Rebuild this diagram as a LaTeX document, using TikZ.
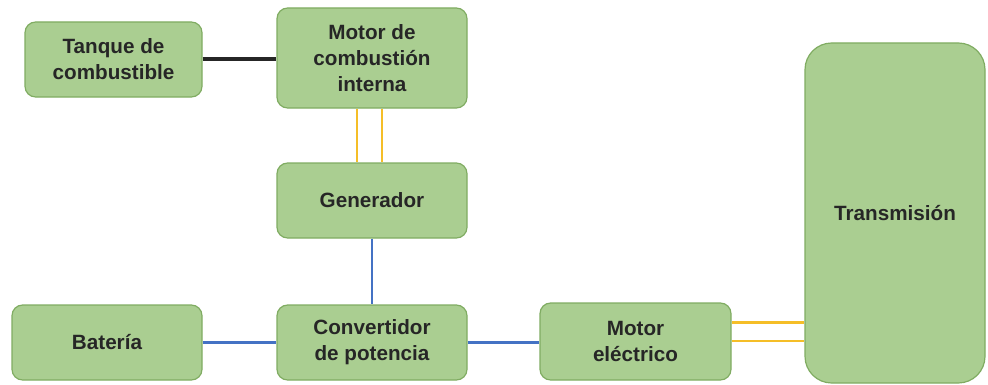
\documentclass[tikz,border=0pt]{standalone}
\usepackage{fontspec}
\setmainfont{Liberation Sans}
\usepackage{xcolor}
\usetikzlibrary{arrows,positioning}

\definecolor{cajaverde}{RGB}{170,206,145}
\definecolor{bordeverde}{RGB}{128,172,98}
\definecolor{amarillo}{RGB}{245,190,40}
\definecolor{azul}{RGB}{68,114,196}

\tikzset{
  caja/.style={rectangle,rounded corners=8pt,draw=bordeverde,line width=0.9pt,fill=cajaverde,
    align=center,inner sep=0pt,text=black!85,
    font=\fontsize{15.5}{19.5}\selectfont\bfseries},
  mecanica/.style={draw=amarillo,line width=2.2pt},
  electrica/.style={draw=azul,line width=2.2pt},
  combustible/.style={draw=black!85,line width=3pt}
}

\begin{document}
\begin{tikzpicture}[x=0.75pt,y=-0.75pt]
  \useasboundingbox (0,0) rectangle (988,385);
  \node[caja,minimum width=177*0.75pt,minimum height=75*0.75pt] (tanque) at (113.5,59.5){Tanque de\\combustible};
  \node[caja,minimum width=190*0.75pt,minimum height=100*0.75pt] (mci) at (372,58){Motor de\\combustión\\interna};
  \node[caja,minimum width=190*0.75pt,minimum height=75*0.75pt] (gen) at (372,200.5){Generador};
  \node[caja,minimum width=190*0.75pt,minimum height=75*0.75pt] (bateria) at (107,342.5){Batería};
  \node[caja,minimum width=190*0.75pt,minimum height=75*0.75pt] (conv) at (372,342.5){Convertidor\\de potencia};
  \node[caja,minimum width=191*0.75pt,minimum height=77*0.75pt] (motorel) at (635.5,341.5){Motor\\eléctrico};
  \node[caja,rounded corners=20pt,minimum width=180*0.75pt,minimum height=340*0.75pt] (trans) at (895,213){Transmisión};
    \draw[combustible] (tanque.east) to (tanque.east -| mci.west);
    \draw[mecanica] ([xshift=-11.25pt]mci.south) to ([xshift=-11.25pt]gen.north);
    \draw[mecanica] ([xshift=7.5pt]mci.south) to ([xshift=7.5pt]gen.north);
    \draw[electrica] (gen.south) to (conv.north);
    \draw[electrica] (bateria.east) to (conv.west);
    \draw[electrica] (conv.east) to (conv.east -| motorel.west);
    \draw[mecanica] ([yshift=14.6pt]motorel.east) to ([yshift=14.6pt]motorel.east -| trans.west);
    \draw[mecanica] ([yshift=0.4pt]motorel.east) to ([yshift=0.4pt]motorel.east -| trans.west);
\end{tikzpicture}
\end{document}
